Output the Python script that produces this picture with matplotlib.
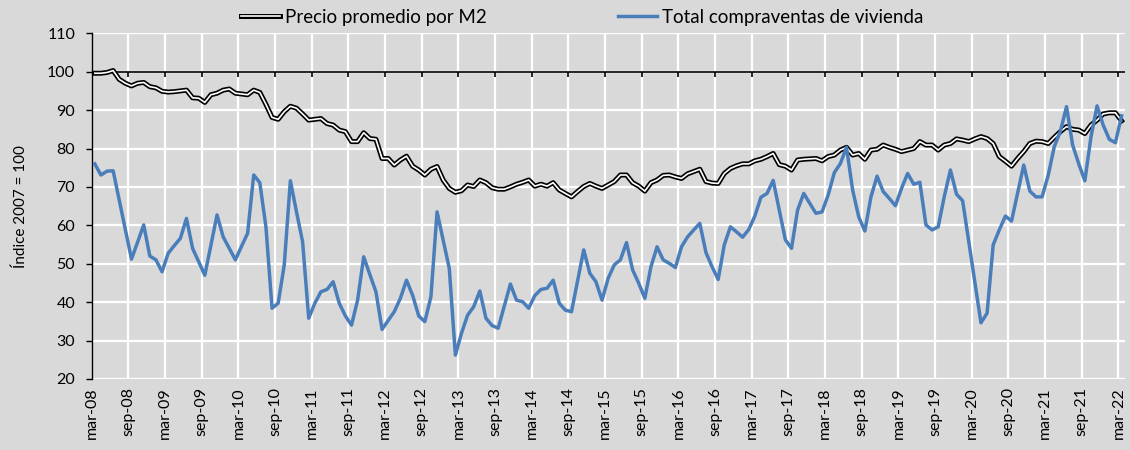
import numpy as np
import matplotlib
matplotlib.use("Agg")
import matplotlib.pyplot as plt
import matplotlib.patheffects as pe

plt.rcParams['font.family'] = ['Lato', 'DejaVu Sans']

# --- datos (índice 2007 = 100), mensual mar-08 .. mar-22 ---
precio_m2 = [
    99.6, 99.6, 99.8, 100.3, 98.0, 97.0, 96.3, 97.0, 97.2, 96.1,
    95.8, 94.9, 94.7, 94.8, 95.0, 95.2, 93.2, 93.1, 92.0, 94.0,
    94.4, 95.2, 95.5, 94.4, 94.2, 94.0, 95.2, 94.6, 91.5, 88.1,
    87.6, 89.6, 91.0, 90.5, 89.0, 87.4, 87.6, 87.8, 86.5, 86.1,
    84.8, 84.4, 81.8, 81.8, 84.1, 82.6, 82.4, 77.4, 77.4, 75.7,
    77.0, 78.0, 75.4, 74.4, 73.1, 74.6, 75.3, 71.8, 69.6, 68.6,
    69.0, 70.5, 70.1, 71.8, 71.1, 69.8, 69.4, 69.4, 70.0, 70.7,
    71.2, 71.8, 70.2, 70.7, 70.2, 71.1, 69.2, 68.3, 67.4, 68.8,
    70.1, 70.9, 70.2, 69.6, 70.5, 71.4, 73.1, 73.1, 71.1, 70.2,
    68.9, 71.1, 71.8, 73.0, 73.1, 72.6, 72.2, 73.4, 74.0, 74.6,
    71.4, 71.0, 70.9, 73.5, 74.8, 75.5, 76.0, 76.0, 76.8, 77.2,
    77.9, 78.7, 75.8, 75.4, 74.4, 77.0, 77.2, 77.3, 77.4, 76.8,
    77.9, 78.3, 79.6, 80.3, 78.3, 78.7, 77.2, 79.6, 79.8, 80.9,
    80.3, 79.8, 79.2, 79.6, 80.0, 81.8, 80.9, 80.9, 79.6, 80.9,
    81.3, 82.5, 82.2, 81.8, 82.5, 83.1, 82.6, 81.3, 77.9, 76.7,
    75.4, 77.4, 79.2, 81.3, 81.9, 81.8, 81.3, 82.9, 84.4, 85.7,
    85.0, 84.8, 83.9, 86.1, 87.4, 89.0, 89.3, 89.3, 87.2,
]

compraventas = [
    76.0, 73.1, 74.1, 74.2, 66.5, 58.9, 51.2, 55.6, 60.1, 52.0,
    51.0, 47.9, 52.7, 54.7, 56.6, 61.8, 54.0, 50.5, 47.0, 54.8,
    62.7, 57.0, 54.0, 51.0, 54.5, 57.9, 73.1, 71.1, 59.6, 38.4,
    39.7, 49.7, 71.6, 63.5, 55.7, 35.8, 39.7, 42.7, 43.3, 45.3,
    39.7, 36.4, 34.0, 40.5, 51.8, 47.2, 42.7, 32.9, 35.2, 37.5,
    41.0, 45.7, 41.8, 36.4, 34.9, 41.4, 63.5, 56.2, 48.8, 26.2,
    31.9, 36.6, 38.8, 42.9, 35.8, 33.9, 33.2, 39.0, 44.7, 40.5,
    40.1, 38.4, 41.7, 43.3, 43.6, 45.7, 39.7, 37.9, 37.5, 45.5,
    53.6, 47.5, 45.3, 40.5, 46.2, 49.7, 51.0, 55.5, 48.4, 44.9,
    41.0, 49.2, 54.4, 51.0, 50.1, 49.0, 54.4, 57.0, 58.8, 60.5,
    52.9, 49.2, 45.9, 54.9, 59.6, 58.3, 56.9, 58.9, 62.4, 67.3,
    68.3, 71.7, 64.0, 56.2, 54.0, 64.0, 68.3, 65.7, 63.1, 63.5,
    67.9, 73.7, 76.1, 80.3, 69.2, 62.2, 58.5, 67.4, 72.8, 68.8,
    67.0, 65.1, 69.6, 73.5, 70.7, 71.2, 60.1, 58.8, 59.6, 67.5,
    74.4, 68.1, 66.4, 55.8, 45.2, 34.6, 37.1, 54.9, 58.8, 62.4,
    61.1, 68.4, 75.7, 68.9, 67.4, 67.4, 73.0, 80.5, 84.5, 90.9,
    80.9, 76.0, 71.6, 83.0, 91.1, 86.1, 82.4, 81.5, 88.5,
]

tick_labels = [f"{m}-{y:02d}" for y in range(8, 23) for m in ("mar", "sep")][:-1]

GRAY = '#d9d9d9'
BLUE = '#4a7ebb'

fig = plt.figure(figsize=(11.3, 4.5), dpi=100, facecolor=GRAY)
ax = fig.add_axes([0.0812, 0.158, 0.914, 0.768], facecolor=GRAY)

x = np.arange(len(precio_m2)) + 0.5

# doble línea (blanca con borde negro) para el precio
ax.plot(x, precio_m2, color='white', lw=1.2, zorder=4,
        label='Precio promedio por M2',
        path_effects=[pe.Stroke(linewidth=3.6, foreground='black'), pe.Normal()])
ax.plot(x, compraventas, color=BLUE, lw=2.5, zorder=5,
        label='Total compraventas de vivienda')

ax.set_xlim(0, 169)
ax.set_ylim(20, 110)
ax.set_yticks(np.arange(20, 111, 10))
ticks = np.arange(0, 169, 6)
ax.set_xticks(ticks)
ax.set_xticklabels(tick_labels, rotation=90, fontsize=11.5)
ax.tick_params(axis='x', length=0, pad=6)
ax.tick_params(axis='y', length=4, width=1, direction='out', labelsize=11.5, pad=8)

ax.grid(True, color='white', lw=1.6, zorder=0)
ax.set_axisbelow(True)
for s in ('top', 'right', 'bottom'):
    ax.spines[s].set_visible(False)
ax.spines['left'].set_color('black')
ax.spines['left'].set_linewidth(1)

# eje horizontal cruzando en 100
ax.axhline(100, color='black', lw=1.2, zorder=2)
ax.vlines(ticks, 98.7, 100, color='black', lw=1.2, zorder=2)

ax.set_ylabel('Índice 2007 = 100', fontsize=11, labelpad=14)

fig.legend(loc='center', bbox_to_anchor=(0.515, 0.962), ncol=2, frameon=False,
           fontsize=13.5, handlelength=2.1, handletextpad=0.25, columnspacing=7.0)

fig.savefig('out.png', dpi=100, facecolor=GRAY)
